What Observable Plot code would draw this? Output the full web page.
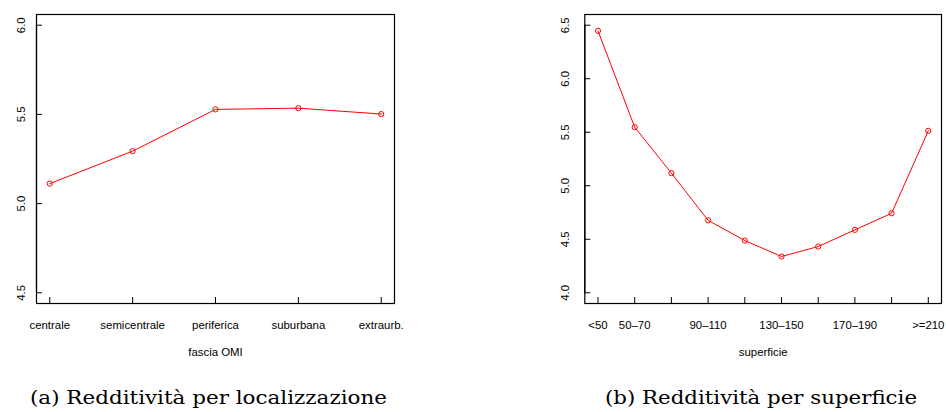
<!DOCTYPE html>
<html><head><meta charset="utf-8">
<script src="https://cdn.jsdelivr.net/npm/d3@7"></script>
<script src="https://cdn.jsdelivr.net/npm/@observablehq/plot@0.6"></script>
<style>
body{margin:0;background:#fff}
#wrap{position:relative;width:946px;height:412px;overflow:hidden;background:#fff}
.p{position:absolute;top:0}
#caps{position:absolute;left:0;top:0}
</style></head><body><div id="wrap"></div>
<script>
// ---- data ----
const zoneCats = ["centrale", "semicentrale", "periferica", "suburbana", "extraurb."];
const zoneValues = [5.112, 5.294, 5.528, 5.535, 5.502];
const zoneYTicks = [4.5, 5.0, 5.5, 6.0];
const zoneYLimits = [4.5, 6.0];

const sizeCats = ["<50", "50–70", "70–90", "90–110", "110–130", "130–150", "150–170", "170–190", "190–210", ">=210"];
const sizeValues = [6.447, 5.547, 5.118, 4.677, 4.488, 4.339, 4.432, 4.588, 4.743, 5.513];
const sizeShownLabels = ["<50", "50–70", "90–110", "130–150", "170–190", ">=210"];
const sizeYTicks = [4.0, 4.5, 5.0, 5.5, 6.0, 6.5];
const sizeYLimits = [4.0, 6.5];

const xTitles = ["fascia OMI", "superficie"];
const captions = ["(a) Redditività per localizzazione", "(b) Redditività per superficie"];

// ---- drawing ----
const sansFont = '"Liberation Sans", Arial, Helvetica, sans-serif';
function expand(a, b) { const d = (b - a) * 0.04; return [a - d, b + d]; }

function panel(o) {
  const n = o.cats.length;
  const idx = o.cats.map((c, i) => i + 1);
  const data = o.cats.map((c, i) => ({i: i + 1, c, v: o.values[i]}));
  const xd = expand(1, n);
  const yd = expand(o.ylim[0], o.ylim[1]);
  const fmt = i => { const c = o.cats[i - 1]; return o.shown.includes(c) ? c : ""; };
  return Plot.plot({
    width: 473, height: 372,
    marginTop: 14, marginBottom: 69, marginLeft: o.ml, marginRight: o.mr,
    style: {fontFamily: sansFont, fontSize: "11.4px", color: "#000", background: "transparent", overflow: "visible"},
    x: {type: "linear", domain: xd},
    y: {type: "linear", domain: yd},
    marks: [
      Plot.axisX(idx, {anchor: "bottom", tickSize: -6, fill: "none", label: null, strokeWidth: 1}),
      Plot.axisX(idx, {anchor: "bottom", tickSize: 0, tickPadding: 17, tickFormat: fmt, label: null, fontSize: 11.4}),
      Plot.axisY(o.yTicks, {anchor: "left", tickSize: -6, fill: "none", label: null, strokeWidth: 1}),
      Plot.axisY(o.yTicks, {anchor: "left", tickSize: 0, tickPadding: o.yPad, tickRotate: -90, tickFormat: d => d.toFixed(1), label: null, fontSize: 11.4}),
      Plot.frame({stroke: "#000", strokeWidth: 1.2}),
      Plot.ruleX([xd[0]], {y1: o.yTicks[0], y2: o.yTicks[o.yTicks.length - 1], stroke: "#000", strokeWidth: 1.2}),
      Plot.ruleY([yd[0]], {x1: 1, x2: n, stroke: "#000", strokeWidth: 1.2}),
      Plot.line(data, {x: "i", y: "v", stroke: "#ff0000", strokeWidth: 1}),
      Plot.dot(data, {x: "i", y: "v", r: 2.6, stroke: "#ff0000", fill: "none", strokeWidth: 1}),
      Plot.text([o.xTitle], {frameAnchor: "bottom", dy: 48.5, text: d => d, lineAnchor: "middle", fontSize: 11.4, fill: "#000"})
    ]
  });
}

const wrap = document.getElementById("wrap");
const a = panel({cats: zoneCats, values: zoneValues, yTicks: zoneYTicks, ylim: zoneYLimits, shown: zoneCats, xTitle: xTitles[0], ml: 36, mr: 79, yPad: 12});
a.classList.add("p"); a.style.left = "0px";
const b = panel({cats: sizeCats, values: sizeValues, yTicks: sizeYTicks, ylim: sizeYLimits, shown: sizeShownLabels, xTitle: xTitles[1], ml: 111.3, mr: 5, yPad: 16});
b.classList.add("p"); b.style.left = "473px";
wrap.appendChild(a); wrap.appendChild(b);

// captions
const ns = "http://www.w3.org/2000/svg";
const cs = document.createElementNS(ns, "svg");
cs.setAttribute("id", "caps"); cs.setAttribute("width", 946); cs.setAttribute("height", 412);
const capPos = [{x: 208.5, w: 357}, {x: 761, w: 312}];
captions.forEach((t, k) => {
  const el = document.createElementNS(ns, "text");
  el.setAttribute("x", capPos[k].x); el.setAttribute("y", 404);
  el.setAttribute("text-anchor", "middle");
  el.setAttribute("font-family", '"DejaVu Serif", "Liberation Serif", serif');
  el.setAttribute("font-size", "18");
  el.setAttribute("textLength", capPos[k].w);
  el.setAttribute("lengthAdjust", "spacingAndGlyphs");
  el.textContent = t;
  cs.appendChild(el);
});
wrap.appendChild(cs);
</script></body></html>
